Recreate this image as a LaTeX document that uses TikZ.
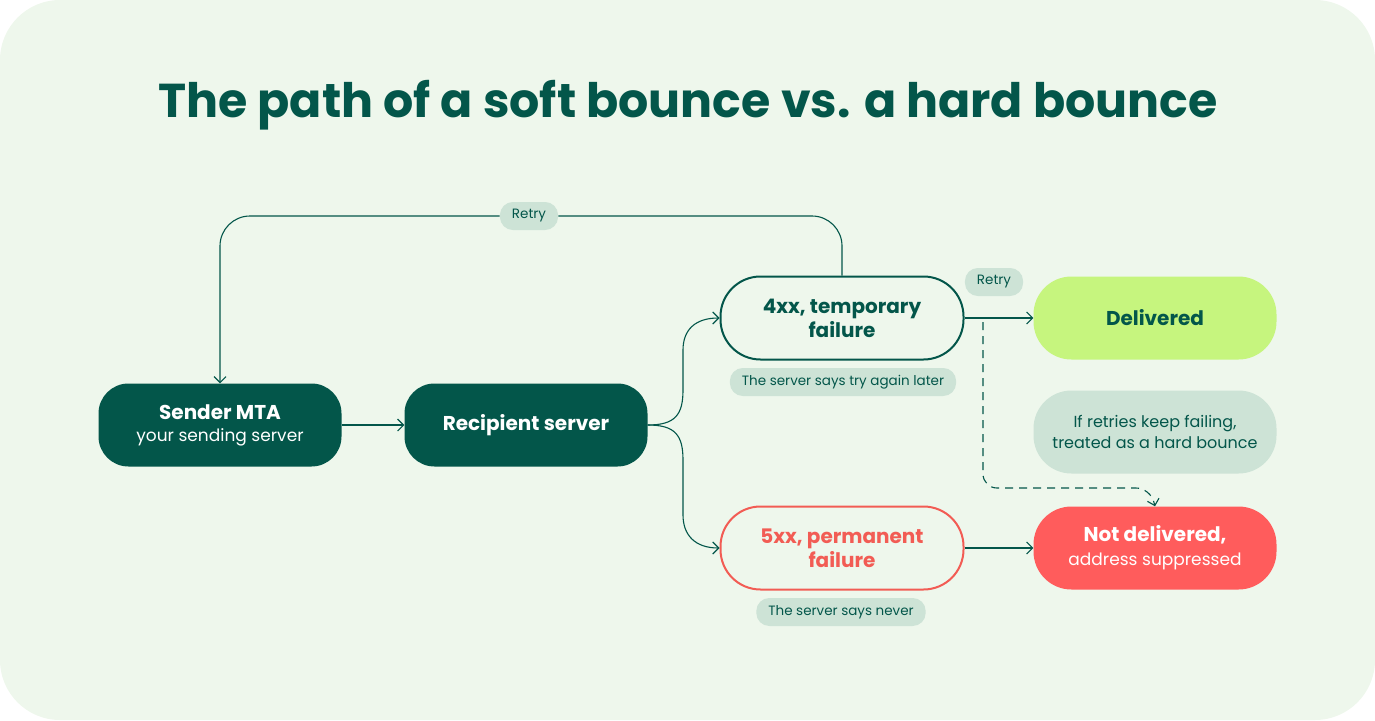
\documentclass[tikz,border=0pt]{standalone}
\usepackage{fontspec}
\setmainfont{Poppins}
\usetikzlibrary{arrows.meta, positioning}
\definecolor{bgcol}{HTML}{EEF7EC}
\definecolor{darkgreen}{HTML}{03564A}
\definecolor{pillcol}{HTML}{CDE3D6}
\definecolor{limecol}{HTML}{C6F57E}
\definecolor{redcol}{HTML}{FF5C5C}
\definecolor{redtext}{HTML}{F25C54}
\begin{document}
\begin{tikzpicture}[
		x=1pt, y=-1pt,
		box/.style={rounded corners=30pt, minimum width=243pt, minimum height=83pt, align=center, font=\fontsize{20}{24}\selectfont},
		outline/.style={box, rounded corners=40pt, line width=2pt, fill=bgcol},
		pill/.style={rounded corners=13pt, fill=pillcol, text=darkgreen, inner xsep=12pt, minimum height=28pt, font=\fontsize{13.5}{16}\selectfont},
		edge/.style={-{Straight Barb[length=6pt, width=12pt]}, darkgreen, line width=1.1pt},
		]
		
		% background
		\fill[bgcol, rounded corners=60pt] (0,0) rectangle (1375,720);
		\useasboundingbox (0,0) rectangle (1375,720);
		\node[text=darkgreen, font=\fontsize{47.5}{52}\selectfont\bfseries] (title) at (688,105) {The path of a soft bounce vs. a hard bounce};
		
		% Boxes
		\node[box, fill=darkgreen, text=white] (mta) at (220,425) {\textbf{Sender MTA}\\[-2pt]{\fontsize{17}{20}\selectfont your sending server}};
		\node[box, fill=darkgreen, text=white] (rcpt) at (526,425) {\textbf{Recipient server}};
		\node[outline, draw=darkgreen, text=darkgreen] (temp) at (842,318) {\textbf{4xx, temporary}\\\textbf{failure}};
		\node[outline, draw=redtext, text=redtext] (perm) at (842,548) {\textbf{5xx, permanent}\\\textbf{failure}};
		\node[box, rounded corners=38pt, fill=limecol, text=darkgreen] (deliv) at (1155,318) {\textbf{Delivered}};
		\node[box, rounded corners=38pt, fill=pillcol, text=darkgreen, font=\fontsize{16}{21}\selectfont] (note) at (1155,432) {If retries keep failing,\\treated as a hard bounce};
		\node[box, rounded corners=38pt, fill=redcol, text=white] (notdel) at (1155,548) {\textbf{Not delivered,}\\{\fontsize{17}{20}\selectfont address suppressed}};
		
		% Labels
		\node[pill] (later) at (843,382) {The server says try again later};
		\node[pill] (never) at (841,612) {The server says never};
		\node[pill] (retrytop) at (529,216) {Retry};
		\node[pill] (retryside) at (994,282) {Retry};
		
		% Connectors
		\coordinate (fork) at (683,425);
		\coordinate (dashtop) at (983,322);
		\draw[edge] (mta) -- (rcpt);
		\draw[edge] (rcpt.east) .. controls (675,425) and (683,415) .. (683,390) -- (683,350) .. controls (683,330) and (695,318) .. (temp.west);
		\draw[edge] (rcpt.east) .. controls (675,425) and (683,435) .. (683,460) -- (683,515) .. controls (683,535) and (695,548) .. (perm.west);
		\draw[edge, rounded corners=30pt] (temp.north) |- (retrytop) -| (mta.north);
		\draw[edge] (temp) -- (deliv);
		\draw[edge] (perm) -- (notdel);
		\draw[edge, dashed, dash pattern=on 8pt off 6pt, rounded corners=14pt] (dashtop) -- (983,488) -- (1150,488) -- (notdel.north);
		
	\end{tikzpicture}
\end{document}
